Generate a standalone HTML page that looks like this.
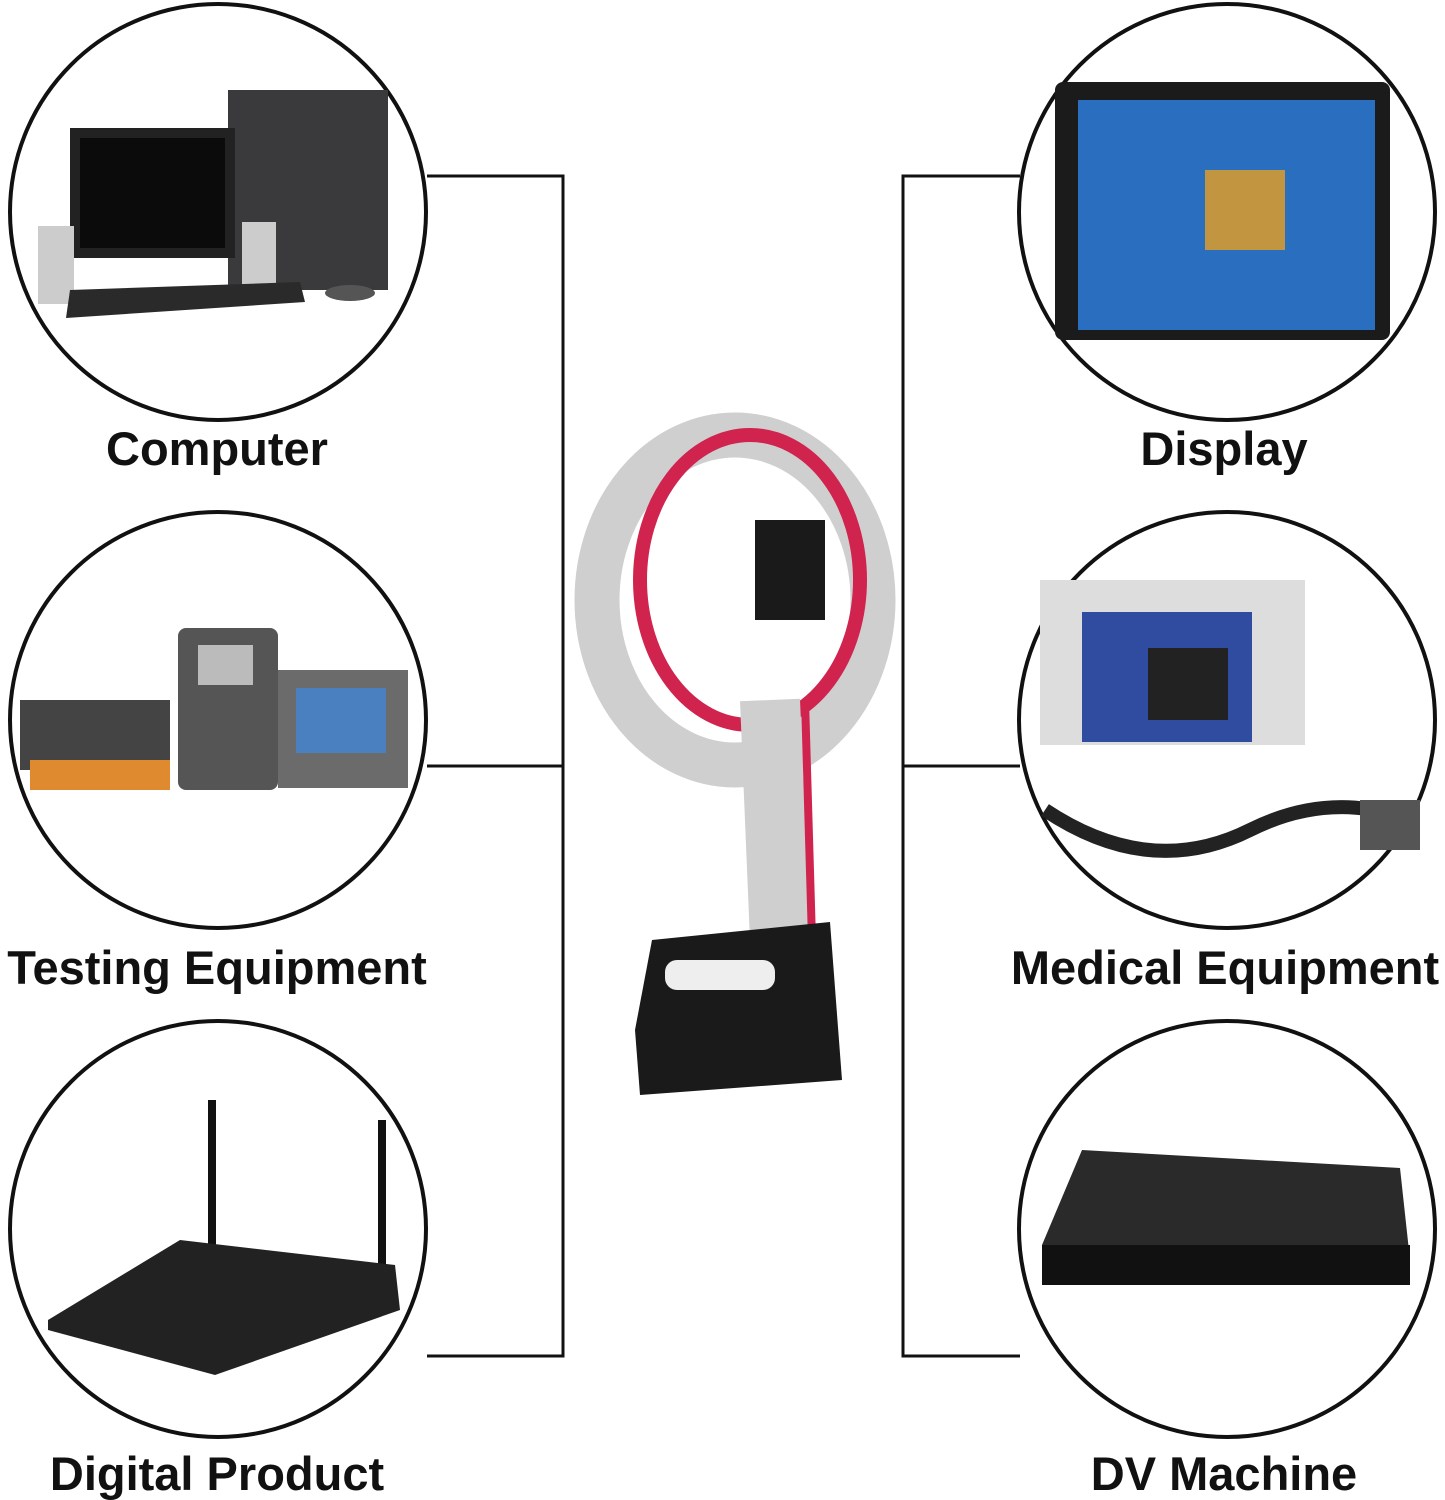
<!DOCTYPE html>
<html><head><meta charset="utf-8"><style>
html,body{margin:0;padding:0;background:#fff;}
svg{display:block}
text{font-family:"Liberation Sans",sans-serif;font-weight:bold;fill:#111;}
</style></head><body>
<svg width="1445" height="1500" viewBox="0 0 1445 1500" xmlns="http://www.w3.org/2000/svg">
<g fill="none" stroke="#111" stroke-width="3">
<polyline points="427,176 563,176 563,1356 427,1356"/>
<line x1="427" y1="766" x2="563" y2="766"/>
<polyline points="1020,176 903,176 903,1356 1020,1356"/>
<line x1="903" y1="766" x2="1020" y2="766"/>
</g>
<g fill="none" stroke="#111" stroke-width="4">
<circle cx="218" cy="212" r="208"/>
<circle cx="218" cy="720" r="208"/>
<circle cx="218" cy="1229" r="208"/>
<circle cx="1227" cy="212" r="208"/>
<circle cx="1227" cy="720" r="208"/>
<circle cx="1227" cy="1229" r="208"/>
</g>
<!-- computer -->
<rect x="228" y="90" width="160" height="200" fill="#3a3a3c"/>
<rect x="70" y="128" width="165" height="130" fill="#222"/>
<rect x="80" y="138" width="145" height="110" fill="#0b0b0b"/>
<rect x="38" y="226" width="36" height="78" fill="#ccc"/>
<rect x="242" y="222" width="34" height="72" fill="#ccc"/>
<polygon points="70,290 300,282 305,302 66,318" fill="#2a2a2a"/>
<ellipse cx="350" cy="293" rx="25" ry="8" fill="#555"/>
<!-- display -->
<rect x="1055" y="82" width="335" height="258" rx="8" fill="#1b1b1b"/>
<rect x="1078" y="100" width="297" height="230" fill="#2a6fbf"/>
<rect x="1205" y="170" width="80" height="80" fill="#e8a020" opacity="0.8"/>
<!-- testing -->
<rect x="20" y="700" width="150" height="70" fill="#444"/>
<rect x="30" y="760" width="140" height="30" fill="#e08a30"/>
<rect x="178" y="628" width="100" height="162" rx="8" fill="#555"/>
<rect x="198" y="645" width="55" height="40" fill="#bbb"/>
<rect x="278" y="670" width="130" height="118" fill="#6b6b6b"/>
<rect x="296" y="688" width="90" height="65" fill="#4a7fc0"/>
<!-- medical -->
<rect x="1040" y="580" width="265" height="165" fill="#ddd"/>
<rect x="1082" y="612" width="170" height="130" fill="#2f4ca0"/>
<rect x="1148" y="648" width="80" height="72" fill="#222"/>
<path d="M1045 810 Q1150 880 1250 830 Q1330 790 1410 820" stroke="#222" stroke-width="14" fill="none"/>
<rect x="1360" y="800" width="60" height="50" fill="#555"/>
<!-- router -->
<rect x="208" y="1100" width="8" height="150" fill="#111"/>
<rect x="378" y="1120" width="8" height="150" fill="#111"/>
<polygon points="48,1320 180,1240 395,1265 400,1310 215,1375 48,1330" fill="#222"/>
<!-- DVD -->
<polygon points="1042,1245 1082,1150 1400,1168 1410,1260 1042,1282" fill="#2a2a2a"/>
<rect x="1042" y="1245" width="368" height="40" fill="#111"/>
<!-- cable -->
<ellipse cx="735" cy="600" rx="138" ry="165" fill="none" stroke="#cfcfcf" stroke-width="45"/>
<ellipse cx="750" cy="580" rx="110" ry="145" fill="none" stroke="#d0234e" stroke-width="14"/>
<path d="M770 700 L780 940" stroke="#cfcfcf" stroke-width="60"/>
<path d="M805 700 L812 940" stroke="#d0234e" stroke-width="8"/>
<rect x="755" y="520" width="70" height="100" fill="#1a1a1a"/>
<polygon points="652,940 830,922 842,1080 640,1095 635,1030" fill="#1a1a1a"/>
<rect x="665" y="960" width="110" height="30" rx="12" fill="#eee"/>
<g font-size="47" text-anchor="middle">
<text x="217" y="465">Computer</text>
<text x="217" y="984">Testing Equipment</text>
<text x="217" y="1490">Digital Product</text>
<text x="1224" y="465">Display</text>
<text x="1225" y="984">Medical Equipment</text>
<text x="1224" y="1490">DV Machine</text>
</g>
</svg>
</body></html>
